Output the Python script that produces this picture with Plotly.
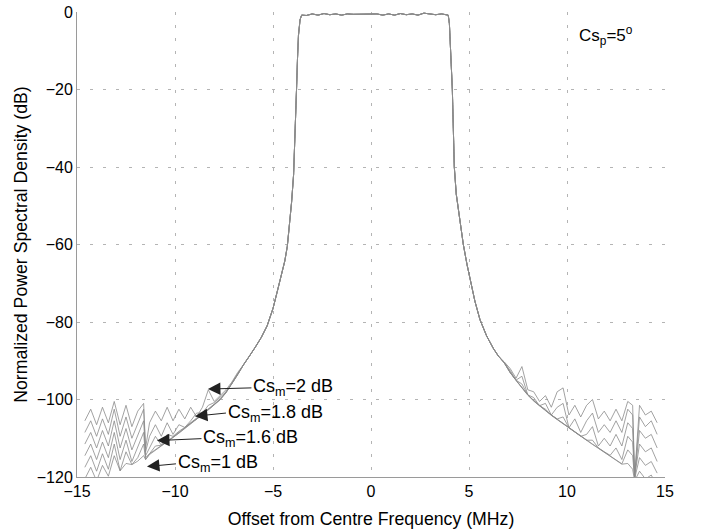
import plotly.graph_objects as go

# Frequency offsets (MHz) for the lower skirt, the shared main lobe and the upper skirt
x_left = [-14.6, -14.3, -14.0, -13.7, -13.4, -13.1, -12.8, -12.5, -12.2, -11.9, -11.6, -11.5,
          -11.3, -11.0, -10.7, -10.4, -10.1, -9.8, -9.5, -9.2, -8.9, -8.6, -8.3, -8.0,
          -7.7, -7.4, -7.1, -6.8]
x_mid = [-6.5, -6.2, -5.9, -5.6, -5.3, -5.0, -4.8, -4.6, -4.4, -4.27, -4.15, -4.05, -3.95,
         -3.9, -3.85, -3.8, -3.75, -3.7, -3.62, -3.54,
         -3.3, -3.0, -2.7, -2.4, -2.1, -1.8, -1.5, -1.2, -0.9, -0.6, -0.3, 0.0, 0.3, 0.6,
         0.9, 1.2, 1.5, 1.8, 2.1, 2.4, 2.7, 3.0, 3.3, 3.6, 3.85,
         3.94, 4.0, 4.07, 4.15, 4.2, 4.25, 4.35, 4.5, 4.71, 4.9, 5.14, 5.3, 5.56, 5.9, 6.24, 6.5]
x_right = [6.8, 7.1, 7.4, 7.7, 8.0, 8.3, 8.6, 8.9, 9.2, 9.5, 9.8, 10.1, 10.4, 10.7, 11.0,
           11.3, 11.6, 11.9, 12.2, 12.5, 12.8, 13.1, 13.35, 13.45, 13.7, 14.0, 14.3, 14.6]

# Main lobe PSD (dB), common to every Cs_m setting
psd_mid = [-91.0, -88.8, -86.5, -84.0, -81.0, -76.5, -72.6, -68.6, -64.3, -60.5, -55.0, -49.0,
           -42.0, -36.0, -28.0, -20.0, -12.0, -6.0, -2.0, -0.8,
           -0.9, -0.5, -0.8, -0.4, -0.7, -0.5, -0.8, -0.5, -0.6, -0.6, -0.6, -0.6, -0.5, -0.8,
           -0.5, -0.8, -0.4, -0.7, -0.5, -0.8, -0.3, -0.5, -0.7, -0.5, -0.6,
           -0.8, -3.0, -10.0, -20.0, -30.0, -40.0, -47.0, -53.0, -60.0, -65.2, -71.0, -74.6,
           -79.4, -83.6, -86.8, -88.8]

# Lower skirt PSD (dB) per Cs_m value
psd_left_cs2_0 = [-105.5, -102.5, -106.5, -102.0, -106.0, -100.5, -106.5, -101.5, -107.0, -103.0,
                  -101.0, -112.5, -106.0, -103.0, -105.5, -102.0, -105.5, -102.5, -105.0, -102.0,
                  -104.5, -102.0, -97.5, -100.5, -99.0, -97.5, -95.5, -93.0]
psd_left_cs1_8 = [-108.5, -105.5, -109.5, -105.0, -109.0, -102.5, -109.5, -104.5, -110.0, -106.0,
                  -102.5, -113.5, -109.5, -106.5, -109.5, -106.0, -109.0, -106.5, -107.2, -105.5,
                  -103.5, -103.5, -101.5, -100.8, -99.5, -98.0, -95.8, -93.3]
psd_left_cs1_6 = [-111.5, -108.5, -112.5, -108.0, -112.0, -105.5, -112.5, -107.5, -113.0, -109.0,
                  -105.5, -114.5, -112.5, -109.5, -111.8, -109.0, -109.5, -108.2, -107.2, -106.0,
                  -104.8, -103.8, -102.5, -101.2, -99.8, -98.1, -95.9, -93.4]
psd_left_cs1_4 = [-114.5, -111.5, -115.5, -111.0, -115.0, -108.5, -115.5, -110.5, -116.0, -112.0,
                  -108.5, -115.0, -114.0, -112.0, -111.8, -110.8, -109.7, -108.5, -107.3, -106.1,
                  -105.0, -104.0, -102.6, -101.3, -100.0, -98.2, -96.0, -93.5]
psd_left_cs1_2 = [-117.5, -114.5, -118.5, -114.0, -118.0, -111.5, -118.4, -113.5, -116.8, -115.0,
                  -111.5, -115.5, -114.0, -113.0, -112.0, -111.0, -109.8, -108.6, -107.4, -106.2,
                  -105.0, -104.0, -102.6, -101.3, -100.0, -98.2, -96.0, -93.5]
psd_left_cs1_0 = [-120.5, -117.5, -121.0, -117.0, -119.8, -114.5, -118.4, -116.5, -116.8, -115.9,
                  -114.5, -115.5, -114.2, -113.1, -112.1, -111.1, -109.9, -108.7, -107.5, -106.3,
                  -105.1, -104.1, -102.7, -101.4, -100.1, -98.3, -96.1, -93.6]

# Upper skirt PSD (dB) per Cs_m value
psd_right_cs2_0 = [-90.3, -92.0, -94.5, -91.5, -97.5, -98.0, -100.5, -99.0, -102.0, -98.0, -97.0,
                   -104.0, -101.5, -104.5, -101.5, -100.0, -105.0, -103.0, -105.5, -102.5, -105.5,
                   -100.5, -101.5, -120.0, -101.5, -104.0, -103.0, -106.0]
psd_right_cs1_8 = [-90.5, -92.5, -95.0, -94.0, -98.8, -99.5, -101.6, -101.0, -104.0, -102.0, -101.0,
                   -107.3, -105.0, -108.5, -105.5, -103.5, -108.5, -106.5, -108.5, -105.5, -108.5,
                   -102.5, -104.0, -120.0, -104.5, -107.0, -105.5, -109.0]
psd_right_cs1_6 = [-90.5, -93.0, -95.0, -96.0, -98.8, -100.3, -101.6, -102.5, -104.0, -105.0, -104.5,
                   -107.3, -108.4, -109.5, -109.0, -107.0, -112.0, -110.0, -112.0, -109.0, -112.0,
                   -106.0, -107.5, -120.0, -108.0, -110.0, -109.0, -112.5]
psd_right_cs1_4 = [-90.5, -93.0, -95.0, -97.0, -98.8, -100.3, -101.6, -102.8, -104.0, -105.1, -106.2,
                   -107.3, -108.4, -109.5, -110.5, -110.5, -112.5, -113.5, -114.4, -112.5, -115.5,
                   -109.5, -111.0, -120.0, -111.5, -113.5, -112.5, -116.0]
psd_right_cs1_2 = [-90.5, -93.0, -95.0, -97.0, -98.8, -100.3, -101.6, -102.8, -104.0, -105.1, -106.2,
                   -107.3, -108.4, -109.5, -110.5, -111.5, -112.5, -113.5, -114.4, -115.4, -116.6,
                   -113.0, -114.5, -120.5, -115.0, -117.0, -116.0, -119.0]
psd_right_cs1_0 = [-90.6, -93.1, -95.1, -97.1, -98.9, -100.4, -101.7, -102.9, -104.1, -105.2, -106.3,
                   -107.4, -108.5, -109.6, -110.6, -111.6, -112.6, -113.6, -114.5, -115.5, -116.7,
                   -116.5, -118.0, -121.0, -118.5, -120.5, -119.5, -122.5]

cs_m_values = [2.0, 1.8, 1.6, 1.4, 1.2, 1.0]
left_skirts = [psd_left_cs2_0, psd_left_cs1_8, psd_left_cs1_6,
               psd_left_cs1_4, psd_left_cs1_2, psd_left_cs1_0]
right_skirts = [psd_right_cs2_0, psd_right_cs1_8, psd_right_cs1_6,
                psd_right_cs1_4, psd_right_cs1_2, psd_right_cs1_0]

# Annotation labels and the points they refer to
label_texts = ["Cs<sub>m</sub>=2 dB", "Cs<sub>m</sub>=1.8 dB",
               "Cs<sub>m</sub>=1.6 dB", "Cs<sub>m</sub>=1 dB"]
label_head_x = [-8.32, -8.98, -10.92, -11.43]
label_head_y = [-97.3, -104.3, -110.6, -117.3]
label_text_x = [-6.1, -7.4, -8.65, -9.95]
label_text_y = [-97.0, -103.5, -110.1, -116.6]

x_ticks = [-15, -10, -5, 0, 5, 10, 15]
y_ticks = [-120, -100, -80, -60, -40, -20, 0]

FONT = "Liberation Sans, Arial, Helvetica, sans-serif"
LINE_COLOR = "#8a8a8a"

fig = go.Figure()
x_all = x_left + x_mid + x_right
for cs, lft, rgt in zip(cs_m_values, left_skirts, right_skirts):
    fig.add_trace(go.Scatter(
        x=x_all, y=lft + psd_mid + rgt, mode="lines",
        line=dict(color=LINE_COLOR, width=0.8),
        name=f"Cs_m={cs} dB", hoverinfo="skip",
    ))

for txt, hx, hy, tx, ty in zip(label_texts, label_head_x, label_head_y, label_text_x, label_text_y):
    fig.add_annotation(
        x=hx, y=hy, ax=tx, ay=ty, axref="x", ayref="y", xref="x", yref="y",
        text=txt, showarrow=True, arrowhead=2, arrowsize=2.5, arrowwidth=1,
        arrowcolor="#222222", xanchor="left", yanchor="middle",
        font=dict(family=FONT, size=18, color="black"),
    )

fig.add_annotation(
    x=12.0, y=-6.0, xref="x", yref="y", showarrow=False,
    text="Cs<sub>p</sub>=5<sup>o</sup>",
    font=dict(family=FONT, size=17, color="black"),
)

axis_common = dict(
    showgrid=True, gridcolor="#b4b4b4", griddash="3px,10px", gridwidth=1,
    showline=True, linecolor="#9a9a9a", linewidth=1, zeroline=False,
    ticks="", tickfont=dict(family=FONT, size=16, color="black"),
    automargin=False,
)

fig.update_xaxes(range=[-15, 15], tickvals=x_ticks, **axis_common,
                 title=dict(text="Offset from Centre Frequency (MHz)",
                            font=dict(family=FONT, size=17.7, color="black"), standoff=16))
fig.update_yaxes(range=[-120, 0], tickvals=y_ticks, **axis_common,
                 title=dict(text="Normalized Power Spectral Density (dB)",
                            font=dict(family=FONT, size=17.7, color="black"), standoff=4))

fig.update_layout(
    width=706, height=529,
    margin=dict(l=77, r=41, t=12, b=52),
    plot_bgcolor="white", paper_bgcolor="white",
    showlegend=False,
    font=dict(family=FONT, size=16, color="black"),
)

fig.write_html("out.html")
